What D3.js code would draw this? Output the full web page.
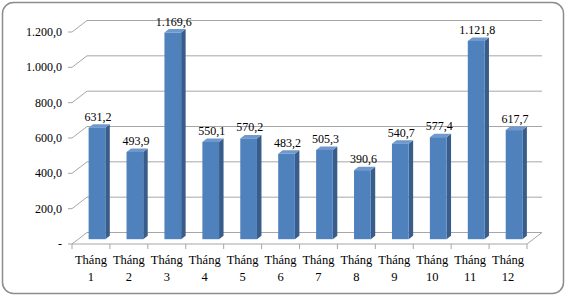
<!DOCTYPE html>
<html>
<head>
<meta charset="utf-8">
<script src="https://cdn.jsdelivr.net/npm/d3@7"></script>
<style>
  body { margin: 0; background: #fff; }
  text { font-family: "Liberation Serif", "Times New Roman", serif; fill: #000; }
</style>
</head>
<body>
<div id="chart"></div>
<script>
var months = ["1", "2", "3", "4", "5", "6", "7", "8", "9", "10", "11", "12"];
var values = [631.2, 493.9, 1169.6, 550.1, 570.2, 483.2, 505.3, 390.6, 540.7, 577.4, 1121.8, 617.7];
var yTicks = [0, 200, 400, 600, 800, 1000, 1200];

var width = 568, height = 298;
// 3d depth of the walls and of the bars
var DX = 15, DY = -11.5;
var barDX = 6, barDY = -4.8;
var capDX = 4.5, capDY = -3.5;

var svg = d3.select("#chart").append("svg")
    .attr("width", width)
    .attr("height", height);

svg.append("rect")
    .attr("x", 2.5).attr("y", 2.5)
    .attr("width", 561).attr("height", 291)
    .attr("rx", 11).attr("ry", 11)
    .attr("fill", "#fff")
    .attr("stroke", "#8c8c8c")
    .attr("stroke-width", 1.5);

var x = d3.scaleBand()
    .domain(months)
    .range([72, 527])
    .paddingInner(0.56)
    .paddingOuter(0.28);

var xEdge = d3.scalePoint()
    .domain(d3.range(13))
    .range([72, 527]);

var y = d3.scaleLinear()
    .domain([0, 1200])
    .range([244, 32]);

var fmt = d3.formatLocale({ decimal: ",", thousands: ".", grouping: [3], currency: ["", ""] }).format(",.1f");

var grid = svg.append("g").attr("stroke", "#a6a6a6").attr("stroke-width", 1).attr("fill", "none");

// back wall gridlines + left wall diagonals
yTicks.forEach(function(t) {
    grid.append("line")
        .attr("x1", 72 + DX).attr("x2", 527 + DX)
        .attr("y1", y(t) + DY).attr("y2", y(t) + DY);
    grid.append("line")
        .attr("x1", 72).attr("x2", 72 + DX)
        .attr("y1", y(t)).attr("y2", y(t) + DY);
    grid.append("line")
        .attr("x1", 68).attr("x2", 72)
        .attr("y1", y(t)).attr("y2", y(t));
});

// floor
grid.append("line")
    .attr("x1", 72).attr("x2", 527)
    .attr("y1", y(0)).attr("y2", y(0));
grid.append("line")
    .attr("x1", 527).attr("x2", 527 + DX)
    .attr("y1", y(0)).attr("y2", y(0) + DY);

// category tick marks
xEdge.domain().forEach(function(i) {
    grid.append("line")
        .attr("x1", xEdge(i)).attr("x2", xEdge(i))
        .attr("y1", y(0)).attr("y2", y(0) + 5);
});

svg.append("g")
    .selectAll("text")
    .data(yTicks)
    .enter()
    .append("text")
    .attr("x", 62)
    .attr("y", function(d) { return y(d) + 4; })
    .attr("text-anchor", "end")
    .style("font-size", "12px")
    .text(function(d) { return d === 0 ? "-" : fmt(d); });

// bars
var bars = svg.append("g").selectAll("g")
    .data(values)
    .enter()
    .append("g");

function bx(d, i) { return x(months[i]) + barDX; }
function by(d) { return y(d) + barDY; }
var bottom = y(0) + barDY;

bars.append("path")
    .attr("fill", "#385d8a")
    .attr("d", function(d, i) {
        var x1 = bx(d, i) + x.bandwidth(), t = by(d);
        return "M" + x1 + "," + t + "L" + (x1 + capDX) + "," + (t + capDY) +
            "L" + (x1 + capDX) + "," + (bottom + capDY) + "L" + x1 + "," + bottom + "Z";
    });

bars.append("path")
    .attr("fill", "#6f98cd")
    .attr("d", function(d, i) {
        var x0 = bx(d, i), x1 = x0 + x.bandwidth(), t = by(d);
        return "M" + x0 + "," + t + "L" + (x0 + capDX) + "," + (t + capDY) +
            "L" + (x1 + capDX) + "," + (t + capDY) + "L" + x1 + "," + t + "Z";
    });

bars.append("rect")
    .attr("fill", "#4f81bd")
    .attr("x", bx)
    .attr("y", by)
    .attr("width", x.bandwidth())
    .attr("height", function(d) { return bottom - by(d); });

bars.append("text")
    .attr("x", function(d, i) { return bx(d, i) + x.bandwidth() / 2 + 1; })
    .attr("y", function(d) { return by(d) - 7; })
    .attr("text-anchor", "middle")
    .style("font-size", "12px")
    .text(function(d) { return fmt(d); });

// category labels
var labels = svg.append("g").selectAll("text")
    .data(months)
    .enter()
    .append("text")
    .attr("x", function(d) { return x(d) + x.bandwidth() / 2; })
    .attr("y", 264)
    .attr("text-anchor", "middle")
    .style("font-size", "12.5px");

labels.append("tspan").text("Tháng");
labels.append("tspan")
    .attr("x", function(d) { return x(d) + x.bandwidth() / 2; })
    .attr("dy", 17)
    .text(function(d) { return d; });
</script>
</body>
</html>
